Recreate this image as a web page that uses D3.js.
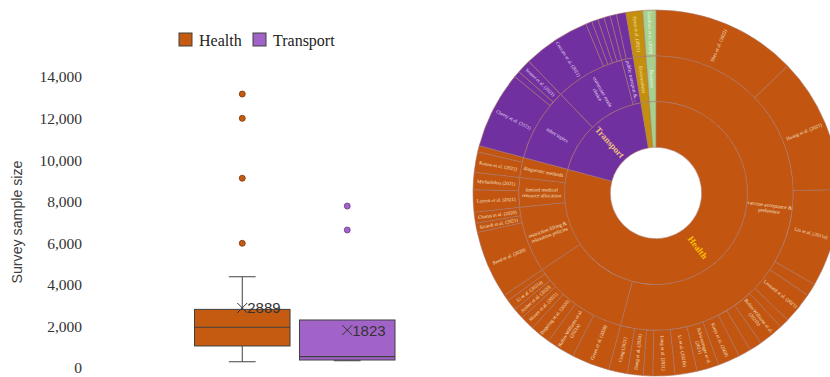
<!DOCTYPE html>
<html>
<head>
<meta charset="utf-8">
<script src="https://cdn.jsdelivr.net/npm/d3@7"></script>
<style>
  body { margin: 0; background: #ffffff; }
  svg { display: block; }
</style>
</head>
<body>
<script>
// ---------------- Box plot data ----------------
const series = ["Health", "Transport"];
const whiskerLow = [300, 350];
const q1 = [1060, 385];
const median = [1960, 545];
const q3 = [2820, 2310];
const whiskerHigh = [4390, 2310];
const means = [2889, 1823];
const outliers = [[13180, 12010, 9130, 6000], [7790, 6640]];
const yTicks = [0, 2000, 4000, 6000, 8000, 10000, 12000, 14000];
const yTitle = "Survey sample size";

// ---------------- Sunburst data ----------------
const sbCategories = ["Health", "Transport", "Environment", "Business"];
const sbCategoryLabels = ["Health", "Transport", "", ""];
const sbTopics = [
  ["vaccine acceptance &\npreference", "Health"],
  ["", "Health"],
  ["restriction lifting &\nrelaxation policies", "Health"],
  ["limited medical\nresource allocation", "Health"],
  ["diagnostic methods", "Health"],
  ["other topics", "Transport"],
  ["commuter mode\nchoice", "Transport"],
  ["public transport &...", "Transport"],
  ["Environment", "Environment"],
  ["Business", "Business"]
];
// [topic index, label, weight]
const sbLeaves = [
  [0, "Shen et al. (2022)", 46],
  [0, "Huang et al. (2021)", 43],
  [0, "Liu et al. (2021a)", 31],
  [0, "", 4],
  [0, "Leonard et al. (2021)", 10],
  [0, "", 3],
  [0, "Rubin-Williams et al.\n(2021b)", 8],
  [0, "", 4],
  [0, "", 4],
  [0, "Kreps et al. (2020)", 7],
  [0, "Schwarzinger et al.\n(2021)", 7],
  [0, "Li et al. (2021b)", 7],
  [0, "Long et al. (2021)", 7],
  [0, "", 3],
  [0, "Dong et al. (2020)", 5],
  [0, "Craig (2021)", 6],
  [1, "Green et al. (2020)", 12],
  [1, "Rubin-Williams et al.\n(2021a)", 9],
  [1, "Degeling et al. (2020)", 6.5],
  [1, "Moore et al. (2021)", 4.5],
  [1, "Joshee et al. (2020)", 3.5],
  [1, "Li et al. (2021a)", 3.5],
  [1, "", 2],
  [2, "Reed et al. (2020)", 21.5],
  [2, "Sicardi et al. (2021)", 3],
  [2, "Charus et al. (2020)", 3.5],
  [3, "Luyten et al. (2021)", 7],
  [3, "Michailidou (2021)", 5.5],
  [4, "Kotare et al. (2022)", 6.5],
  [4, "", 2],
  [5, "Cherry et al. (2021)", 24.5],
  [5, "", 2],
  [5, "Sennet et al. (2021)", 4.5],
  [6, "Ceccato et al. (2021)", 21.5],
  [6, "", 2],
  [6, "", 2],
  [6, "", 2],
  [6, "", 2],
  [7, "", 2],
  [7, "", 3],
  [8, "Hyun et al. (2021)", 5.3],
  [9, "Grashuis et al. (2020)", 4.2]
];

// ---------------- Styles ----------------
const boxFill = { Health: "#c55a11", Transport: "#a263c9" };
const dotStroke = { Health: "#7a3608", Transport: "#6b3a8c" };
const catColor = { Health: "#c25510", Transport: "#7030a0", Environment: "#c38f0c", Business: "#a8d08d" };
const textColor = { Health: "#f6e4d2", Transport: "#eadcf2", Environment: "#f7e6b8", Business: "#f4fbef" };
const rootLabelColor = { Health: "#ffc000", Transport: "#f0c27f" };
const ink = "#404040";

const svg = d3.select("body").append("svg").attr("width", 830).attr("height", 377);

// ================= BOX PLOT =================
const y = d3.scaleLinear().domain([0, 14000]).range([368, 77]);
const x = d3.scaleBand().domain(series).range([194.5, 395]).paddingInner(0.09);

const axis = svg.append("g").attr("transform", "translate(82,0)")
  .call(d3.axisLeft(y).tickValues(yTicks).tickSize(0).tickPadding(0).tickFormat(d3.format(",")));
axis.select(".domain").remove();
axis.selectAll("text")
  .attr("font-family", "'Liberation Serif', serif")
  .attr("font-size", 15.5)
  .attr("fill", "#333");

svg.append("text")
  .attr("transform", "translate(22,222) rotate(-90)")
  .attr("text-anchor", "middle")
  .attr("font-family", "'Liberation Sans', sans-serif")
  .attr("font-size", 14.2)
  .attr("fill", ink)
  .text(yTitle);

// legend
const legend = svg.append("g");
const legX = [179, 253];
series.forEach((s, i) => {
  legend.append("rect").attr("x", legX[i]).attr("y", 33).attr("width", 13).attr("height", 13)
    .attr("fill", boxFill[s]).attr("stroke", ink).attr("stroke-width", 1);
  legend.append("text").attr("x", legX[i] + 20).attr("y", 45.5)
    .attr("font-family", "'Liberation Serif', serif").attr("font-size", 16)
    .attr("fill", "#222").text(s);
});

series.forEach((s, i) => {
  const g = svg.append("g");
  const x0 = x(s), bw = x.bandwidth(), cx = x0 + bw / 2;
  const cap = bw * 0.28;
  g.append("line").attr("x1", cx).attr("x2", cx).attr("y1", y(q3[i])).attr("y2", y(whiskerHigh[i]))
    .attr("stroke", ink).attr("stroke-width", 1);
  g.append("line").attr("x1", cx).attr("x2", cx).attr("y1", y(q1[i])).attr("y2", y(whiskerLow[i]))
    .attr("stroke", ink).attr("stroke-width", 1);
  if (whiskerHigh[i] > q3[i]) {
    g.append("line").attr("x1", cx - cap / 2).attr("x2", cx + cap / 2).attr("y1", y(whiskerHigh[i])).attr("y2", y(whiskerHigh[i]))
      .attr("stroke", ink).attr("stroke-width", 1);
  }
  g.append("line").attr("x1", cx - cap / 2).attr("x2", cx + cap / 2).attr("y1", y(whiskerLow[i])).attr("y2", y(whiskerLow[i]))
    .attr("stroke", ink).attr("stroke-width", 1);
  g.append("rect").attr("x", x0).attr("y", y(q3[i])).attr("width", bw).attr("height", y(q1[i]) - y(q3[i]))
    .attr("fill", boxFill[s]).attr("stroke", ink).attr("stroke-width", 1);
  g.append("line").attr("x1", x0).attr("x2", x0 + bw).attr("y1", y(median[i])).attr("y2", y(median[i]))
    .attr("stroke", ink).attr("stroke-width", 1.2);
  g.selectAll("circle").data(outliers[i]).join("circle")
    .attr("cx", cx).attr("cy", d => y(d)).attr("r", 3)
    .attr("fill", boxFill[s]).attr("stroke", dotStroke[s]).attr("stroke-width", 0.8);
  const my = y(means[i]), ms = 5;
  g.append("path").attr("d", `M${cx - ms},${my - ms}L${cx + ms},${my + ms}M${cx - ms},${my + ms}L${cx + ms},${my - ms}`)
    .attr("stroke", "#333").attr("stroke-width", 1).attr("fill", "none");
  g.append("text").attr("x", cx + 5).attr("y", my).attr("dy", "0.36em")
    .attr("font-family", "'Liberation Sans', sans-serif").attr("font-size", 15)
    .attr("fill", "#333").text(means[i]);
});

// ================= SUNBURST =================
const treeData = {
  name: "root",
  children: sbCategories.map((c, ci) => ({
    name: sbCategoryLabels[ci], cat: c,
    children: sbTopics.map((t, ti) => ({ t, ti })).filter(o => o.t[1] === c).map(o => ({
      name: o.t[0], cat: c,
      children: sbLeaves.filter(l => l[0] === o.ti).map(l => ({ name: l[1], cat: c, value: l[2] }))
    }))
  }))
};
const root = d3.hierarchy(treeData).sum(d => d.value || 0);
d3.partition().size([2 * Math.PI, 4])(root);
const ringW = 45.75;
const arc = d3.arc()
  .startAngle(d => d.x0).endAngle(d => d.x1)
  .innerRadius(d => d.y0 * ringW).outerRadius(d => d.y1 * ringW);

const sb = svg.append("g").attr("transform", "translate(656,193)");
const nodes = root.descendants().filter(d => d.depth > 0);
sb.selectAll("path").data(nodes).join("path")
  .attr("d", arc)
  .attr("fill", d => catColor[d.data.cat])
  .attr("stroke", "#a8756a").attr("stroke-width", 0.6);

function labelTransform(d) {
  const a = (d.x0 + d.x1) / 2 * 180 / Math.PI;
  const r = (d.y0 + d.y1) / 2 * ringW;
  return `rotate(${a - 90}) translate(${r},0) rotate(${a < 180 ? 0 : 180})`;
}
const labeled = nodes.filter(d => d.data.name && d.data.name.length);
const lab = sb.append("g").attr("pointer-events", "none");
labeled.forEach(d => {
  const lines = d.data.name.split("\n");
  const isRoot = d.depth === 1;
  const fs = isRoot ? 9 : (d.depth === 2 ? 5.2 : 4.9);
  const t = lab.append("text")
    .attr("transform", labelTransform(d))
    .attr("text-anchor", "middle")
    .attr("font-family", "'Liberation Serif', serif")
    .attr("font-size", fs)
    .attr("font-weight", isRoot ? "bold" : "normal")
    .attr("fill", isRoot ? rootLabelColor[d.data.cat] : textColor[d.data.cat]);
  lines.forEach((ln, k) => {
    t.append("tspan").attr("x", 0)
      .attr("dy", k === 0 ? `${0.35 - (lines.length - 1) * 0.55}em` : "1.1em")
      .text(ln);
  });
});
</script>
</body>
</html>
